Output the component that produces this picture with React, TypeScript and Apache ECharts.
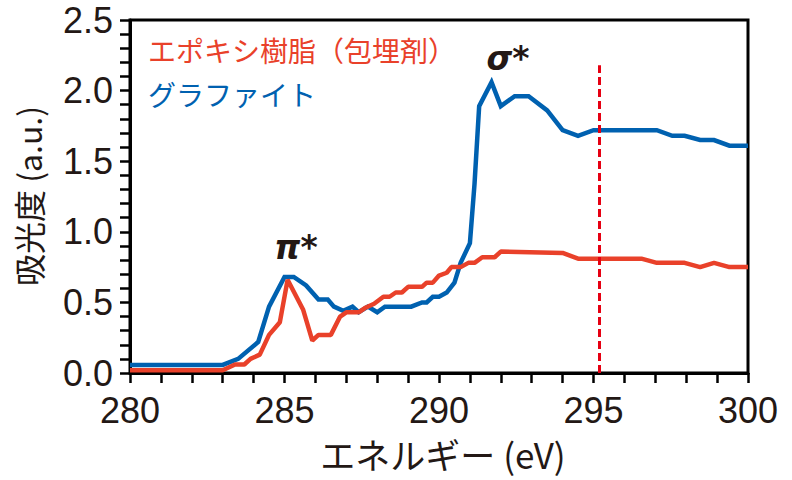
import React, { useEffect, useRef } from "react";
import * as echarts from "echarts";

// Energies (eV) and absorbance (a.u.)
const graphiteE = [280.0, 283.0, 283.5, 284.15, 284.5, 285.0, 285.3, 285.7, 286.1, 286.4, 286.6, 286.9, 287.2, 287.4, 287.7, 288.0, 288.25, 289.1, 289.45, 289.6, 289.8, 290.0, 290.25, 290.5, 290.7, 291.0, 291.15, 291.3, 291.7, 292.0, 292.45, 292.9, 293.5, 294.0, 294.5, 295.0, 297.05, 297.55, 297.95, 298.45, 298.9, 299.4, 300.0];
const graphiteV = [0.057, 0.057, 0.10, 0.22, 0.47, 0.68, 0.68, 0.62, 0.52, 0.52, 0.47, 0.44, 0.47, 0.43, 0.47, 0.43, 0.47, 0.47, 0.50, 0.50, 0.54, 0.54, 0.57, 0.64, 0.78, 0.92, 1.34, 1.89, 2.06, 1.89, 1.96, 1.96, 1.86, 1.72, 1.68, 1.72, 1.72, 1.68, 1.68, 1.65, 1.65, 1.61, 1.61];

const epoxyE = [280.0, 283.0, 283.4, 283.7, 283.9, 284.2, 284.5, 284.85, 285.1, 285.6, 285.9, 286.1, 286.5, 286.8, 287.0, 287.4, 287.6, 287.9, 288.2, 288.4, 288.6, 288.8, 289.0, 289.45, 289.6, 289.8, 290.0, 290.25, 290.4, 290.7, 290.95, 291.15, 291.4, 291.8, 292.0, 294.0, 294.5, 296.55, 297.05, 297.95, 298.45, 298.9, 299.4, 300.0];
const epoxyV = [0.02, 0.02, 0.06, 0.06, 0.10, 0.13, 0.27, 0.36, 0.66, 0.45, 0.23, 0.27, 0.27, 0.40, 0.43, 0.43, 0.46, 0.49, 0.54, 0.54, 0.57, 0.57, 0.61, 0.61, 0.64, 0.64, 0.69, 0.71, 0.75, 0.75, 0.78, 0.78, 0.82, 0.82, 0.86, 0.85, 0.81, 0.81, 0.78, 0.78, 0.75, 0.78, 0.75, 0.75];

const markerE = 295.2;
const markerTop = 2.18;

const seriesNames = ["エポキシ樹脂（包埋剤）", "グラファイト"];
const xTitle = "エネルギー (eV)";
const yTitle = "吸光度 (a.u.)";

const BLACK = "#231815";
const RED = "#e9412a";
const BLUE = "#0061b0";
const NUM_FONT = "'Liberation Sans Narrow', 'Liberation Sans', Arial, sans-serif";
const JP_FONT = "'Noto Sans CJK JP', 'Liberation Sans', sans-serif";

export default function App() {
  const ref = useRef<HTMLDivElement>(null);
  useEffect(() => {
    if (!ref.current) return;
    const chart = echarts.init(ref.current, null, { renderer: "svg" });
    const zip = (xs: number[], ys: number[]) => xs.map((x, i) => [x, ys[i]]);
    const axisCommon = {
      axisLine: { show: true, lineStyle: { color: "#000", width: 3 } },
      axisTick: { show: true, inside: false, length: 10, lineStyle: { color: "#000", width: 2.5 } },
      minorTick: { show: true, splitNumber: 5, length: 10, lineStyle: { color: "#000", width: 2.5 } },
      splitLine: { show: false },
      minorSplitLine: { show: false },
    };
    chart.setOption({
      animation: false,
      grid: { left: 130, right: 44, top: 20, bottom: 107, show: true, borderColor: "#000", borderWidth: 3, backgroundColor: "transparent" },
      xAxis: {
        type: "value",
        min: 280,
        max: 300,
        interval: 5,
        ...axisCommon,
        axisLabel: { margin: 19, fontSize: 36, fontFamily: NUM_FONT, color: BLACK },
      },
      yAxis: {
        type: "value",
        min: 0,
        max: 2.5,
        interval: 0.5,
        ...axisCommon,
        axisLabel: { margin: 17, fontSize: 36, fontFamily: NUM_FONT, color: BLACK, formatter: (v: number) => v.toFixed(1) },
      },
      series: [
        {
          name: seriesNames[1],
          type: "line",
          data: zip(graphiteE, graphiteV),
          symbol: "none",
          lineStyle: { color: BLUE, width: 4.5, join: "miter" },
          z: 3,
        },
        {
          name: seriesNames[0],
          type: "line",
          data: zip(epoxyE, epoxyV),
          symbol: "none",
          lineStyle: { color: RED, width: 4.5 },
          z: 4,
          markLine: {
            silent: true,
            symbol: "none",
            label: { show: false },
            lineStyle: { color: "#e60012", width: 3, type: [8, 4] },
            data: [[{ coord: [markerE, 0] }, { coord: [markerE, markerTop] }]],
          },
        },
      ],
      graphic: [
        { type: "text", left: 148, top: 36, style: { text: seriesNames[0], fill: RED, fontSize: 28, fontFamily: JP_FONT } },
        { type: "text", left: 148, top: 80, style: { text: seriesNames[1], fill: BLUE, fontSize: 28, fontFamily: JP_FONT } },
        {
          type: "text", x: 28, y: 196, rotation: Math.PI / 2,
          style: { text: yTitle, fill: BLACK, fontSize: 32, fontFamily: JP_FONT, align: "center", verticalAlign: "middle" },
        },
        {
          type: "text", x: 443, y: 453,
          style: { text: xTitle, fill: BLACK, fontSize: 35, fontFamily: JP_FONT, align: "center", verticalAlign: "middle" },
        },
        {
          type: "text", x: 296, y: 247,
          style: { text: "π*", fill: BLACK, fontSize: 33, fontWeight: "bold", fontStyle: "italic", fontFamily: "'DejaVu Sans', sans-serif", align: "center", verticalAlign: "middle" },
        },
        {
          type: "text", x: 508, y: 58,
          style: { text: "σ*", fill: BLACK, fontSize: 33, fontWeight: "bold", fontStyle: "italic", fontFamily: "'DejaVu Sans', sans-serif", align: "center", verticalAlign: "middle" },
        },
      ],
    });
    return () => chart.dispose();
  }, []);
  return <div ref={ref} style={{ position: "absolute", left: 0, top: 0, width: 792, height: 480 }} />;
}
